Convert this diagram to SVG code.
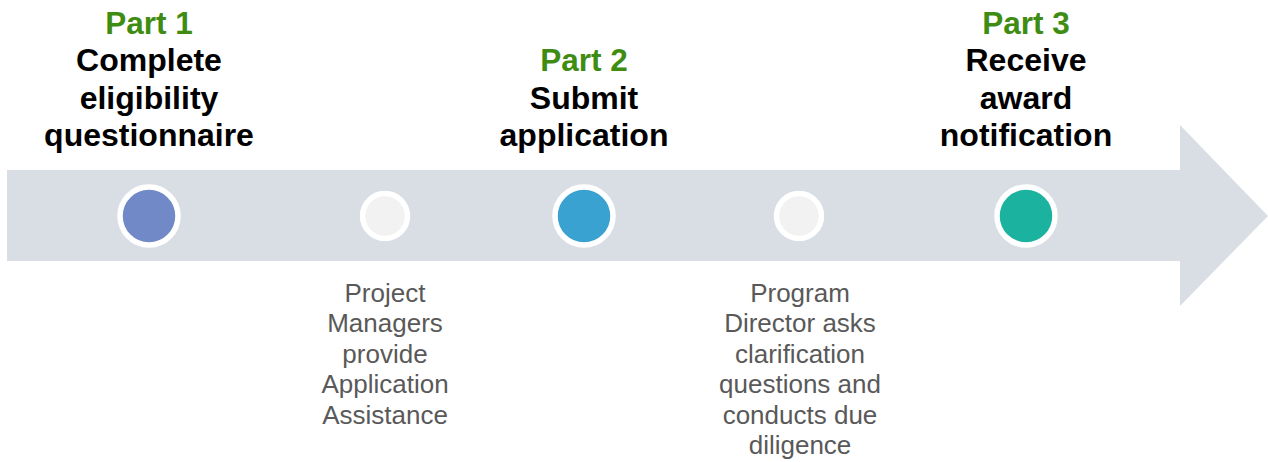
<svg xmlns="http://www.w3.org/2000/svg" width="1268" height="462" viewBox="0 0 1268 462">
<style>
.part{font-family:"Liberation Sans",Arial,sans-serif;font-weight:bold;font-size:31.5px;fill:#3F8C12;text-anchor:middle}
.title{font-family:"Liberation Sans",Arial,sans-serif;font-weight:bold;font-size:32px;fill:#000;text-anchor:middle}
.desc{font-family:"Liberation Sans",Arial,sans-serif;font-size:26px;fill:#595959;text-anchor:middle}
.ring{stroke:#fff;stroke-width:5.5}
</style>
<rect width="1268" height="462" fill="#fff"/>
<g id="connectors">
<path id="timeline-arrow" d="M7,170 H1180 V125 L1268,216 L1180,306 V261 H7 Z" fill="#D9DEE4"/>
</g>
<g id="part1">
<circle class="ring" cx="149" cy="216" r="29" fill="#7289C8"/>
<text class="part" x="149" y="34">Part 1</text>
<text class="title" x="149" y="71">Complete</text>
<text class="title" x="149" y="108.5">eligibility</text>
<text class="title" x="149" y="146">questionnaire</text>
</g>
<g id="step-pm">
<circle class="ring" cx="385" cy="216" r="22.5" fill="#F2F2F2"/>
<text class="desc" x="385" y="302">Project</text>
<text class="desc" x="385" y="332.4">Managers</text>
<text class="desc" x="385" y="362.8">provide</text>
<text class="desc" x="385" y="393.2">Application</text>
<text class="desc" x="385" y="423.6">Assistance</text>
</g>
<g id="part2">
<circle class="ring" cx="584" cy="216" r="29" fill="#39A2D0"/>
<text class="part" x="584" y="71">Part 2</text>
<text class="title" x="584" y="108.5">Submit</text>
<text class="title" x="584" y="146">application</text>
</g>
<g id="step-pd">
<circle class="ring" cx="799" cy="216" r="22.5" fill="#F2F2F2"/>
<text class="desc" x="800" y="302">Program</text>
<text class="desc" x="800" y="332.4">Director asks</text>
<text class="desc" x="800" y="362.8">clarification</text>
<text class="desc" x="800" y="393.2">questions and</text>
<text class="desc" x="800" y="423.6">conducts due</text>
<text class="desc" x="800" y="454">diligence</text>
</g>
<g id="part3">
<circle class="ring" cx="1026" cy="216" r="29" fill="#1BB3A0"/>
<text class="part" x="1026" y="34">Part 3</text>
<text class="title" x="1026" y="71">Receive</text>
<text class="title" x="1026" y="108.5">award</text>
<text class="title" x="1026" y="146">notification</text>
</g>
</svg>
